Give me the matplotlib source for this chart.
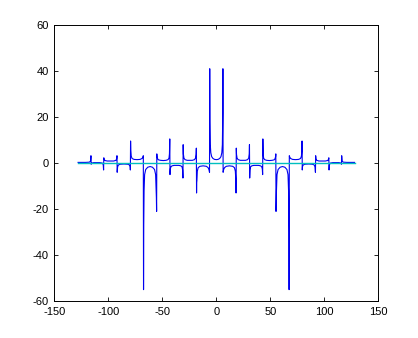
import matplotlib
matplotlib.use("Agg")
import matplotlib.pyplot as plt

plt.rcParams['font.family'] = ['Liberation Sans', 'DejaVu Sans']
plt.rcParams['axes.unicode_minus'] = False

# Blue response curve
blue_x = [
    -128.0, -121.0, -117.5, -116.5, -116.1,
    -115.9, -115.4, -113.5, -108.0, -105.5, -104.7, -104.4,
    -104.2, -103.8, -103.0, -101.0, -98.0, -95.0, -93.0, -92.3, -92.0,
    -91.8, -91.4, -90.6, -89.0, -85.6, -82.0, -80.5, -79.8, -79.6,
    -79.4, -79.2, -78.8, -78.0, -76.2, -73.4, -70.6, -68.8, -68.0, -67.6,
    -67.4, -67.3, -67.2, -66.9, -66.4, -65.4, -63.5, -61.3, -59.1, -57.2, -56.2, -55.7, -55.5, -55.3,
    -55.1, -54.9, -54.4, -53.5, -51.6, -49.1, -46.6, -44.7, -43.8, -43.4, -43.1,
    -42.9, -42.6, -42.0, -41.0, -39.0, -36.9, -34.8, -32.8, -31.7, -31.2, -30.9,
    -30.7, -30.5, -30.0, -29.0, -27.0, -24.6, -22.2, -20.2, -19.2, -18.7, -18.5,
    -18.3, -18.2, -18.0, -17.6, -16.8, -15.2, -12.2, -9.2, -7.6, -6.8, -6.3,
    -6.1, -6.0, -5.9, -5.6, -5.1, -4.3, -3.1, -1.6, 0.0,
    1.6, 3.1, 4.3, 5.1, 5.6, 5.9, 6.0, 6.1,
    6.3, 6.8, 7.6, 9.2, 12.2, 15.2, 16.8, 17.6, 18.0, 18.2, 18.3,
    18.5, 18.7, 19.2, 20.2, 22.2, 24.6, 27.0, 29.0, 30.0, 30.5, 30.7,
    30.9, 31.2, 31.7, 32.8, 34.8, 36.9, 39.0, 41.0, 42.0, 42.6, 42.9,
    43.1, 43.4, 43.8, 44.7, 46.6, 49.1, 51.6, 53.5, 54.4, 54.9, 55.1,
    55.3, 55.5, 55.7, 56.2, 57.2, 59.1, 61.3, 63.5, 65.4, 66.4, 66.9, 67.2, 67.3, 67.4,
    67.6, 68.0, 68.8, 70.6, 73.4, 76.2, 78.0, 78.8, 79.2, 79.4,
    79.6, 79.8, 80.5, 82.0, 85.6, 89.0, 90.6, 91.4, 91.8,
    92.0, 92.3, 93.0, 95.0, 98.0, 101.0, 103.0, 103.8, 104.2,
    104.4, 104.7, 105.5, 108.0, 113.5, 115.4, 115.9,
    116.1, 116.5, 117.5, 121.0, 128.0,
]
blue_y = [
    0.3, 0.3, 0.4, 0.9, 3.2,
    -0.5, 0.0, 0.2, 0.2, 0.0, -0.8, -3.0,
    2.3, 1.5, 1.1, 0.9, 0.9, 0.9, 1.2, 1.8, 3.2,
    -4.0, -1.6, -0.8, -0.5, -0.4, -0.5, -0.8, -1.5, -3.0,
    9.6, 5.5, 3.0, 2.0, 1.6, 1.5, 1.6, 2.0, 2.6, 3.2,
    -55.0, -30.0, -27.0, -12.0, -5.0, -2.8, -1.8, -1.5, -1.8, -2.8, -5.0, -12.0, -15.0, -21.0,
    4.0, 2.8, 1.9, 1.4, 1.2, 1.1, 1.2, 1.5, 2.2, 4.0, 10.5,
    -5.0, -2.5, -1.6, -1.2, -1.0, -1.0, -1.0, -1.2, -1.7, -3.0, -6.5,
    8.0, 4.0, 2.2, 1.5, 1.2, 1.2, 1.2, 1.5, 2.2, 3.8, 6.5,
    -13.0, -8.5, -7.5, -3.5, -2.0, -1.4, -1.2, -1.4, -2.0, -2.8, -4.0,
    41.0, 22.0, 18.0, 8.0, 4.5, 2.8, 2.0, 1.6, 1.5,
    1.6, 2.0, 2.8, 4.5, 8.0, 18.0, 22.0, 41.0,
    -4.0, -2.8, -2.0, -1.4, -1.2, -1.4, -2.0, -3.5, -7.5, -8.5, -13.0,
    6.5, 3.8, 2.2, 1.5, 1.2, 1.2, 1.2, 1.5, 2.2, 4.0, 8.0,
    -6.5, -3.0, -1.7, -1.2, -1.0, -1.0, -1.0, -1.2, -1.6, -2.5, -5.0,
    10.5, 4.0, 2.2, 1.5, 1.2, 1.1, 1.2, 1.4, 1.9, 2.8, 4.0,
    -21.0, -15.0, -12.0, -5.0, -2.8, -1.8, -1.5, -1.8, -2.8, -5.0, -12.0, -27.0, -30.0, -55.0,
    3.2, 2.6, 2.0, 1.6, 1.5, 1.6, 2.0, 3.0, 5.5, 9.6,
    -3.0, -1.5, -0.8, -0.5, -0.4, -0.5, -0.8, -1.6, -4.0,
    3.2, 1.8, 1.2, 0.9, 0.9, 0.9, 1.1, 1.5, 2.3,
    -3.0, -0.8, 0.0, 0.2, 0.2, 0.0, -0.5,
    3.2, 0.9, 0.4, 0.3, 0.3,
]

# Cyan reference line
cyan_x = [-128.0, 128.0]
cyan_y = [0.0, 0.0]

x_ticks = [-150, -100, -50, 0, 50, 100, 150]
y_ticks = [-60, -40, -20, 0, 20, 40, 60]

fig = plt.figure(figsize=(4.18, 3.38), dpi=100)
ax = fig.add_axes([0.130, 0.109, 0.775, 0.817])
ax.plot(blue_x, blue_y, color='#0000f0', linewidth=0.8)
ax.plot(cyan_x, cyan_y, color='#00bfbf', linewidth=1.0)
ax.set_xlim(-150, 150)
ax.set_ylim(-60, 60)
ax.set_xticks(x_ticks)
ax.set_yticks(y_ticks)
ax.tick_params(direction='in', length=3, width=0.6, top=True, right=True,
               labelsize=8)
ax.tick_params(axis='x', pad=4)
ax.tick_params(axis='y', pad=4)
for s in ax.spines.values():
    s.set_linewidth(0.7)
fig.savefig('out.png', dpi=100)
